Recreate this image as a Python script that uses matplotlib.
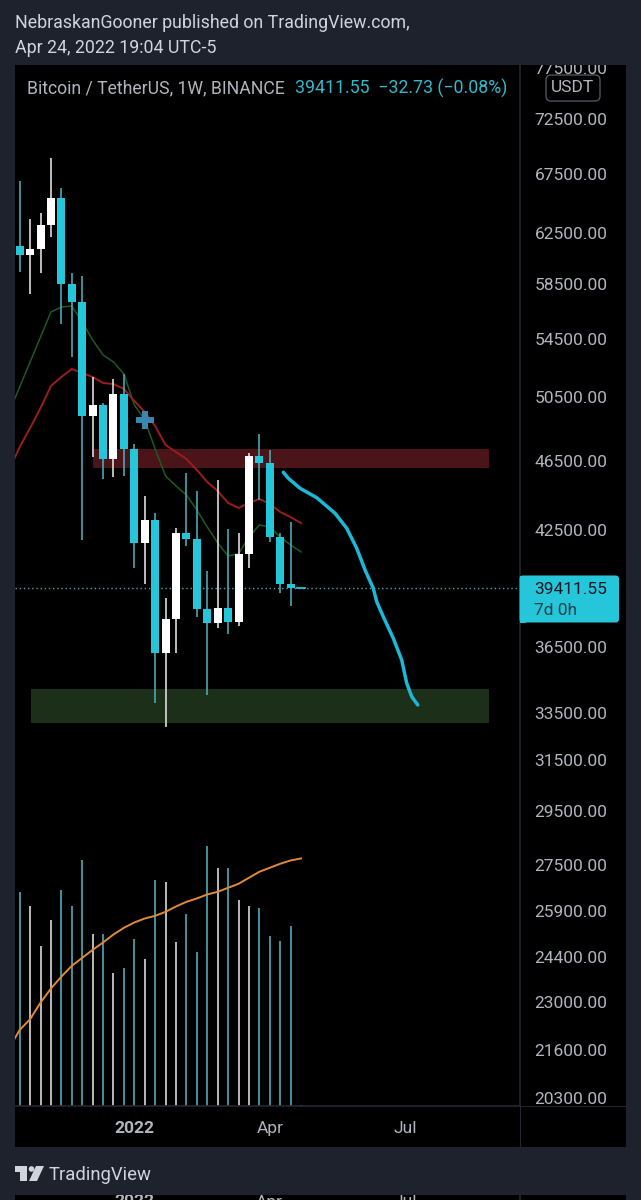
import matplotlib
matplotlib.use("Agg")
import matplotlib.pyplot as plt
from matplotlib.patches import Rectangle, FancyBboxPatch, Polygon, Circle
from matplotlib.ticker import NullLocator
from matplotlib.transforms import Affine2D, Bbox, TransformedBbox

plt.rcParams["font.family"] = ["Roboto", "DejaVu Sans"]

# ----------------------------------------------------------------------
# DATA
# ----------------------------------------------------------------------
opens  = [61450, 60750, 61210, 63170, 65430, 58530, 57180, 49300, 49990, 46600,
          50690, 47210, 41800, 43030, 36200, 37830, 42340, 41980, 38330, 37640,
          38380, 37720, 41200, 46780, 46340, 42110, 39630, 39411.55]
closes = [60730, 61210, 63200, 65430, 58530, 57180, 49300, 49970, 46600, 50690,
          47210, 41800, 43030, 36200, 37830, 42340, 41980, 38330, 37640, 38380,
          37720, 41200, 46780, 46340, 42110, 39630, 39410, 39411.55]
highs  = [66890, 63670, 64190, 68930, 66310, 59350, 59120, 51840, 50120, 51710,
          52050, 47520, 44430, 43440, 38900, 42600, 45760, 44700, 40290, 45350,
          42550, 42330, 46970, 48140, 47150, 42340, 42940, 39411.55]
lows   = [59430, 57750, 59350, 62220, 55540, 53210, 41940, 46720, 45400, 45520,
          45600, 40460, 39630, 33950, 32880, 36200, 41620, 37960, 34290, 37420,
          37120, 37520, 40430, 44180, 41820, 39160, 38490, 39411.55]
volumes = [320, 299, 240, 279, 323, 299, 369, 258, 258, 200, 207, 251, 221, 338,
           336, 246, 287, 231, 390, 357, 356, 308, 300, 297, 255, 248, 270, 2]
is_up = [0, 1, 1, 1, 0, 0, 0, 1, 0, 1, 0, 0, 1, 0, 1, 1, 0, 0, 0, 1, 0, 1, 1, 0, 0, 0, 0, 0]

# the three moving averages start one bar left of the visible area
ma_weeks = list(range(-1, 28))
ma_red = [45938, 47333, 48517, 49795, 51240, 51844, 52386, 52115, 51844, 51440,
          51373, 51041, 50250, 49537, 48643, 47456, 47026, 46600, 45938, 45227,
          44701, 44009, 43724, 44009, 44238, 43952, 43496, 43207, 42868]
ma_green = [49537, 51174, 52864, 54611, 56416, 56784, 56855, 55687, 54399, 53347,
            52864, 52046, 49990, 49025, 47210, 45581, 44992, 44469, 43610, 42657,
            41777, 41078, 41186, 42106, 42768, 42657, 42106, 41669, 41292]
vol_ma = [87, 114, 130, 155, 176, 194, 210, 222, 234, 245, 257, 267, 275, 281, 285,
          291, 299, 306, 311, 317, 321, 327, 333, 342, 351, 357, 363, 368, 371]

# hand drawn projection
path_weeks  = [25.30, 25.78, 26.90, 28.50, 30.26, 31.38, 32.34, 33.14, 33.93, 34.26,
               34.89, 35.85, 36.66, 37.14, 37.62, 38.20]
path_prices = [45801, 45445, 44858, 44313, 43423, 42585, 41491, 40337, 39388, 38709,
               37961, 36909, 35882, 34811, 34210, 33843]

resistance = (7.03, 45.04, 46058, 47210)
support = (1.08, 45.04, 33074, 34541)
cross_week, cross_price = 12, 49025
last_price = 39411.55

price_ticks = [77500, 72500, 67500, 62500, 58500, 54500, 50500, 46500, 42500, 36500,
               33500, 31500, 29500, 27500, 25900, 24400, 23000, 21600, 20300]
time_ticks = [11, 24, 37]
time_labels = ["2022", "Apr", "Jul"]

# ----------------------------------------------------------------------
# COLOURS
# ----------------------------------------------------------------------
PAGE = "#1e222d"
GRID = "#24272f"
CYAN = "#26c6da"
CYAN_WICK = "#4ba6b6"
WHITE_WICK = "#dcdcdc"
TEXT = "#b2b5be"

W, H = 641, 1200
fig = plt.figure(figsize=(W / 100, H / 100), dpi=100, facecolor=PAGE)
px = Affine2D().scale(1 / W, -1 / H).translate(0, 1) + fig.transFigure   # pixel coords for the page furniture


def box(left, top, right, bottom):
    return [left / W, 1 - bottom / H, (right - left) / W, (bottom - top) / H]


# black frame behind everything
back = fig.add_axes(box(15, 65, 625.6, 1147), facecolor="black", zorder=0)
back.set_xticks([])
back.set_yticks([])
for s in back.spines.values():
    s.set_visible(False)

ax = fig.add_axes(box(15, 65, 520, 1106), facecolor="none", zorder=2)
vol = fig.add_axes(box(15, 65, 520, 1106), facecolor="none", zorder=1)

# ----------------------------------------------------------------------
# PRICE PANEL
# ----------------------------------------------------------------------
weeks = list(range(len(opens)))
ax.set_yscale("log")
ax.set_xlim(-0.45, 48.01)
ax.set_ylim(20090, 77782)

for (x0, x1, p0, p1), c in ((resistance, "#4a1418"), (support, "#1c3019")):
    ax.fill_between([x0, x1], p0, p1, color=c, lw=0, zorder=1)

ax.axhline(last_price, color="#4ba6b6", lw=1, ls=(0, (1, 2)), zorder=2)

ax.plot(ma_weeks, ma_green, color="#1d5a22", lw=1.1, zorder=3)
ax.plot(ma_weeks, ma_red, color="#9c1c20", lw=1.4, zorder=3)

wick_colors = [WHITE_WICK if u else CYAN_WICK for u in is_up]
body_colors = ["white" if u else CYAN for u in is_up]
ax.vlines(weeks, lows, highs, colors=wick_colors, lw=1.2, zorder=4)
body_low = [min(o, c) for o, c in zip(opens, closes)]
body_high = [max(o, c) for o, c in zip(opens, closes)]
ax.bar(weeks[:-1], [h - l for h, l in zip(body_high[:-1], body_low[:-1])],
       bottom=body_low[:-1], width=0.77, color=body_colors[:-1], lw=0, zorder=5)
ax.plot([weeks[-1] - 0.38, weeks[-1] + 0.38], [closes[-1], closes[-1]], color=CYAN, lw=1.3, zorder=5)

ax.plot(cross_week, cross_price, marker="P", ms=13, color="#3a86ad", mew=0, zorder=6)
ax.plot(path_weeks, path_prices, color="#1cb8d8", lw=2.5, solid_capstyle="round", zorder=7)

ax.yaxis.tick_right()
ax.set_yticks(price_ticks, [f"{p}.00" for p in price_ticks])
ax.yaxis.set_minor_locator(NullLocator())
ax.yaxis.set_minor_formatter(plt.NullFormatter())
ax.tick_params(axis="y", length=0, pad=10.5, labelsize=12.5, labelcolor=TEXT)
ax.set_xticks(time_ticks, time_labels)
ax.tick_params(axis="x", length=0, pad=11, labelsize=12.5, labelcolor=TEXT)
ax.get_xticklabels()[0].set_fontweight("bold")

# top label is cut by the frame
frame = TransformedBbox(Bbox([[0, 0], [1, 1]]), back.transAxes)
for lbl in ax.get_yticklabels():
    lbl.set_clip_box(frame)
    lbl.set_clip_on(True)
    lbl.set_verticalalignment("center_baseline")

for s in ax.spines.values():
    s.set_visible(False)
ax.spines["right"].set_visible(True)
ax.spines["bottom"].set_visible(True)
ax.spines["right"].set_color(GRID)
ax.spines["bottom"].set_color(GRID)
ax.spines["right"].set_linewidth(1.2)
ax.spines["bottom"].set_linewidth(1.2)

# ----------------------------------------------------------------------
# VOLUME PANEL
# ----------------------------------------------------------------------
vol.set_xlim(ax.get_xlim())
vol.set_ylim(0, 1560)
vol.vlines(weeks, 0, volumes, colors=["#c8c8c8" if u else "#4a9dab" for u in is_up], lw=1.3)
vol.plot(ma_weeks, vol_ma, color="#e08a3c", lw=1.4)
vol.set_xticks([])
vol.set_yticks([])
for s in vol.spines.values():
    s.set_visible(False)

# ----------------------------------------------------------------------
# PAGE FURNITURE
# ----------------------------------------------------------------------
fig.add_artist(Rectangle((520, 1106), 1.2, 41, transform=px, color=GRID, lw=0))
fig.add_artist(Rectangle((520, 1105.5), 105.6, 1.5, transform=px, color=GRID, lw=0))

fig.text(15, 23, "NebraskanGooner published on TradingView.com,", transform=px, color="#d1d4dc",
         fontsize=12.75, va="center", ha="left")
fig.text(15, 48, "Apr 24, 2022 19:04 UTC-5", transform=px, color="#d1d4dc",
         fontsize=12.75, va="center", ha="left")
fig.text(27, 88, "Bitcoin / TetherUS, 1W, BINANCE", transform=px, color=TEXT,
         fontsize=12.7, va="center", ha="left")
fig.text(295, 88, "39411.55  \u221232.73 (\u22120.08%)", transform=px, color="#33b8cc",
         fontsize=12.8, va="center", ha="left")

fig.add_artist(FancyBboxPatch((546, 75), 54, 26, boxstyle="round,pad=0,rounding_size=5", transform=px,
                              fc="black", ec="#50535e", lw=1, zorder=5, mutation_aspect=1))
fig.text(573, 87.5, "USDT", transform=px, color=TEXT, fontsize=12.5, va="center", ha="center", zorder=6)

fig.add_artist(FancyBboxPatch((522, 578), 94.5, 42, boxstyle="round,pad=2.5,rounding_size=3", transform=px,
                              fc=CYAN, ec="none", zorder=5))
fig.add_artist(Rectangle((519.5, 575.5), 6, 47, transform=px, color=CYAN, lw=0, zorder=5))
fig.text(534.5, 589.5, "39411.55", transform=px, color="#131722", fontsize=12.5, va="center", ha="left", zorder=6)
fig.text(534.5, 610.5, "7d 0h", transform=px, color="#12424c", fontsize=12.5, va="center", ha="left", zorder=6)

# TradingView logo
logo = "#d1d4dc"
fig.add_artist(Polygon([(15, 1166), (27, 1166), (27, 1181), (20, 1181), (20, 1172), (15, 1172)],
                       closed=True, transform=px, color=logo, lw=0))
fig.add_artist(Circle((31.5, 1169), 2.8, transform=px, color=logo, lw=0))
fig.add_artist(Polygon([(36, 1166), (44, 1166), (37, 1181), (29, 1181)], closed=True, transform=px, color=logo, lw=0))
fig.text(49, 1175, "TradingView", transform=px, color=logo, fontsize=13.3, va="center", ha="left")

# the next screenshot peeks in at the bottom
strip = fig.add_axes(box(15, 1195, 625.6, 1200), facecolor="black")
strip.set_xlim(-0.45, (625.6 - 19.7) / 10.42)
strip.set_ylim(5, 0)
strip.set_xticks([])
strip.set_yticks([])
for s in strip.spines.values():
    s.set_visible(False)
for t, name in zip(time_ticks, time_labels):
    strip.text(t, 7, name, color=TEXT, fontsize=12.5, ha="center", va="center", clip_on=True,
               fontweight="bold" if name == "2022" else "normal")
strip.axvline((520 - 19.7) / 10.42, color=GRID, lw=1.2)

fig.savefig("out.png", dpi=100, facecolor=fig.get_facecolor())
